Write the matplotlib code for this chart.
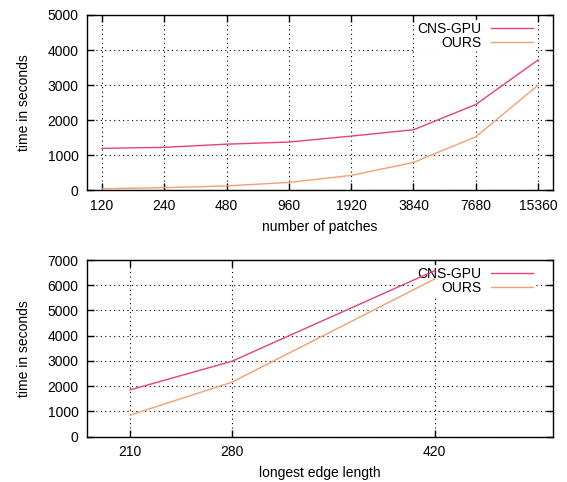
import matplotlib
matplotlib.use("Agg")
import matplotlib.pyplot as plt

plt.rcParams['font.family'] = ['Liberation Sans', 'DejaVu Sans']
plt.rcParams['font.size'] = 10

# top chart: runtime vs number of patches
patches = ['120', '240', '480', '960', '1920', '3840', '7680', '15360']
cns_patches = [1200, 1230, 1320, 1380, 1550, 1730, 2450, 3720]
ours_patches = [50, 80, 130, 230, 430, 800, 1530, 3000]

# bottom chart: runtime vs longest edge length
edge_len = [210, 280, 420]
cns_edge = [1850, 2980, 6580]
ours_edge = [850, 2150, 6250]

CNS_COLOR = '#e8407a'
OURS_COLOR = '#f2a070'


def style_axes(ax):
    ax.set_axisbelow(True)
    ax.grid(True, color='black', linestyle=(0, (1, 3)), linewidth=0.8)
    ax.tick_params(direction='in', length=5, top=True, right=True, width=1)
    ax.tick_params(axis='x', pad=6)
    ax.tick_params(axis='y', pad=6)
    for s in ax.spines.values():
        s.set_linewidth(1)
    leg = ax.legend(loc='upper right', frameon=True, fancybox=False,
                    edgecolor='none', facecolor='white', framealpha=1,
                    markerfirst=False, handlelength=3.0, borderaxespad=0.2,
                    borderpad=0.1, labelspacing=0.0, handletextpad=0.7,
                    bbox_to_anchor=(0.965, 0.985))
    for t in leg.get_texts():
        t.set_ha('right')
    leg.set_zorder(2)


fig = plt.figure(figsize=(5.67, 4.82), dpi=100)
ax1 = fig.add_axes([87 / 567, 1 - 190.5 / 482, 466 / 567, 175.5 / 482])
ax2 = fig.add_axes([87 / 567, 1 - 436.5 / 482, 466 / 567, 176.5 / 482])

xs = list(range(len(patches)))
ax1.plot(xs, cns_patches, color=CNS_COLOR, lw=1, label='CNS-GPU', zorder=3)
ax1.plot(xs, ours_patches, color=OURS_COLOR, lw=1, label='OURS', zorder=3)
ax1.set_xticks(xs, labels=patches)
ax1.set_xlim(-0.24, 7.24)
ax1.set_ylim(0, 5000)
ax1.set_yticks(range(0, 5001, 1000))
ax1.set_xlabel('number of patches', labelpad=5)
ax1.set_ylabel('time in seconds', labelpad=12)
style_axes(ax1)

ax2.plot(edge_len, cns_edge, color=CNS_COLOR, lw=1, label='CNS-GPU', zorder=3)
ax2.plot(edge_len, ours_edge, color=OURS_COLOR, lw=1, label='OURS', zorder=3)
ax2.set_xticks(edge_len)
ax2.set_xlim(180.3, 501.5)
ax2.set_ylim(0, 7000)
ax2.set_yticks(range(0, 7001, 1000))
ax2.set_xlabel('longest edge length', labelpad=5)
ax2.set_ylabel('time in seconds', labelpad=12)
style_axes(ax2)

fig.savefig('out.png', dpi=100)
